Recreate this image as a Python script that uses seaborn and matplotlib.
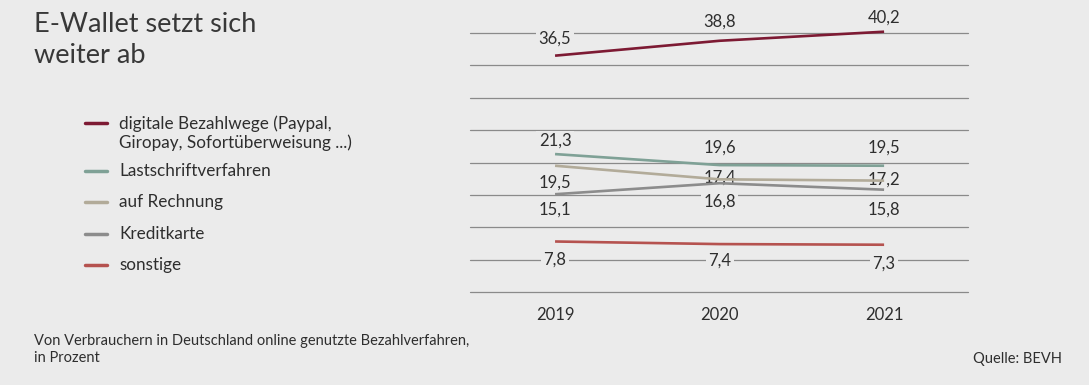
import numpy as np
import pandas as pd
import matplotlib
matplotlib.use("Agg")
import matplotlib.pyplot as plt
import seaborn as sns

# daten
jahre = [2019, 2020, 2021]
verfahren = ["digitale Bezahlwege (Paypal,\nGiropay, Sofortüberweisung ...)",
             "Lastschriftverfahren",
             "auf Rechnung",
             "Kreditkarte",
             "sonstige"]
digital = [36.5, 38.8, 40.2]
lastschrift = [21.3, 19.6, 19.5]
rechnung = [19.5, 17.4, 17.2]
kreditkarte = [15.1, 16.8, 15.8]
sonstige = [7.8, 7.4, 7.3]

werte = [digital, lastschrift, rechnung, kreditkarte, sonstige]
farben = ["#7d1a33", "#7fa196", "#b2ab99", "#8c8c8c", "#b5524f"]

# versatz der beschriftungen in pixel (positiv = nach oben)
versatz = [[17, 19, 14],
           [13, 17, 18],
           [-17, 2, 1],
           [-15, -18, -20],
           [-18, -17, -19]]

filas = []
for nombre, serie in zip(verfahren, werte):
    for j, v in zip(jahre, serie):
        filas.append({"Jahr": j, "Wert": v, "Verfahren": nombre})
df = pd.DataFrame(filas)

hg = "#ebebeb"
txt = "#2e2e2e"
sns.set_theme(style="white")
plt.rcParams["font.family"] = ["Lato", "DejaVu Sans"]

fig = plt.figure(figsize=(10.89, 3.85), dpi=100, facecolor=hg)
ax = fig.add_axes([470 / 1089, 1 - 292 / 385, 498 / 1089, 259 / 385])
ax.set_facecolor(hg)

sns.lineplot(data=df, x="Jahr", y="Wert", hue="Verfahren", hue_order=verfahren,
             palette=farben, linewidth=1.9, legend=False, ax=ax, zorder=3)
for l in ax.lines:
    l.set_clip_on(False)
    l.set_solid_capstyle("butt")

ax.set_xlim(2018.483, 2021.51)
ax.set_ylim(0, 40)
ax.set_yticks(np.arange(0, 41, 5))
ax.set_yticklabels([])
ax.set_xticks(jahre)
ax.set_xticklabels([str(j) for j in jahre], fontsize=12, color=txt)
ax.tick_params(axis="x", length=0, pad=11)
ax.tick_params(axis="y", length=0)
ax.yaxis.grid(True, color="#8a8a8a", linewidth=0.9, zorder=0)
ax.xaxis.grid(False)
for g in ax.get_ygridlines():
    g.set_clip_on(False)
for s in ax.spines.values():
    s.set_visible(False)
ax.set_xlabel("")
ax.set_ylabel("")

# werte beschriften
for serie, vs in zip(werte, versatz):
    for j, v, off in zip(jahre, serie, vs):
        ax.annotate(f"{v:.1f}".replace(".", ","), (j, v),
                    xytext=(0, off * 0.72), textcoords="offset points",
                    ha="center", va="center", fontsize=12, color=txt,
                    bbox=dict(boxstyle="square,pad=0.15", fc=hg, ec="none"),
                    zorder=2, annotation_clip=False)

# titel
fig.text(34 / 1089, 1 - 12 / 385, "E-Wallet setzt sich\nweiter ab", fontsize=19.5,
         fontweight="normal", color="#383838", va="top", ha="left", linespacing=1.32)

# legende
leg_y = [123, 171, 202, 234, 265]
for nombre, c, yy in zip(verfahren, farben, leg_y):
    y = 1 - yy / 385
    fig.add_artist(plt.Line2D([85 / 1089, 107 / 1089], [y, y], color=c, linewidth=2.5,
                              transform=fig.transFigure))
    fig.text(119 / 1089, y + 8 / 385, nombre, fontsize=12.3, color=txt,
             va="top", ha="left", linespacing=1.2)

# fuss
fig.text(34 / 1089, 1 - 334 / 385,
         "Von Verbrauchern in Deutschland online genutzte Bezahlverfahren,\nin Prozent",
         fontsize=10.5, color=txt, va="top", ha="left", linespacing=1.3)
fig.text(1062 / 1089, 1 - 352 / 385, "Quelle: BEVH", fontsize=10.5, color=txt,
         va="top", ha="right")

plt.savefig("out.png", dpi=100, facecolor=hg)
